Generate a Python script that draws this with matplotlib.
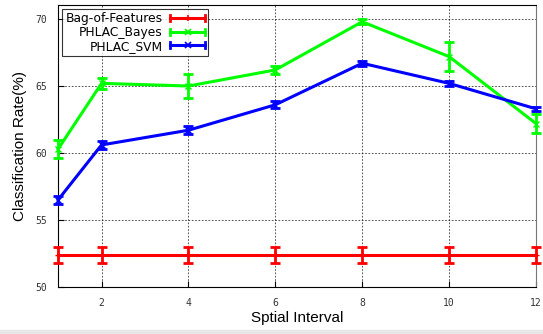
import numpy as np
import matplotlib.pyplot as plt
from matplotlib.patches import Rectangle
from matplotlib.lines import Line2D
from matplotlib.legend_handler import HandlerBase

# Data
intervals = [1, 2, 4, 6, 8, 10, 12]
bof_rate = [52.4, 52.4, 52.4, 52.4, 52.4, 52.4, 52.4]
bof_err = [0.6, 0.6, 0.6, 0.6, 0.6, 0.6, 0.6]
bayes_rate = [60.3, 65.2, 65.0, 66.2, 69.8, 67.2, 62.2]
bayes_err = [0.7, 0.4, 0.9, 0.3, 0.2, 1.1, 0.7]
svm_rate = [56.5, 60.6, 61.7, 63.6, 66.7, 65.2, 63.3]
svm_err = [0.3, 0.3, 0.3, 0.25, 0.2, 0.2, 0.15]

labels = ['Bag-of-Features', 'PHLAC_Bayes', 'PHLAC_SVM']
colors = ['#ff0000', '#00ff00', '#0000ff']
markers = ['+', 'x', 'x']

xticks = [2, 4, 6, 8, 10, 12]
yticks = [50, 55, 60, 65, 70]


class GnuplotKey(HandlerBase):
    # gnuplot style key sample: line with caps at both ends and the point in the middle
    def create_artists(self, legend, orig_handle, xdescent, ydescent, width, height, fontsize, trans):
        c = orig_handle.get_color()
        y = height / 2 - ydescent
        x0, x1 = -xdescent, width - xdescent
        h = height * 0.35
        arts = [Line2D([x0, x1], [y, y], color=c, lw=2.2),
                Line2D([x0, x0], [y - h, y + h], color=c, lw=2.0),
                Line2D([x1, x1], [y - h, y + h], color=c, lw=2.0),
                Line2D([(x0 + x1) / 2], [y], color=c, marker=orig_handle.get_marker(),
                       markersize=4, mew=1.2, linestyle='none')]
        for a in arts:
            a.set_transform(trans)
        return arts


fig = plt.figure(figsize=(5.43, 3.34), dpi=100)
ax = fig.add_axes([0.107, 0.141, 0.880, 0.844])

style = dict(linewidth=2.2, capsize=3.5, capthick=2.0, elinewidth=2.0, clip_on=False, zorder=3)
series = [(bof_rate, bof_err), (bayes_rate, bayes_err), (svm_rate, svm_err)]
proxies = []
for (rate, err), lab, col, mk in zip(series, labels, colors, markers):
    ax.errorbar(intervals, rate, yerr=err, color=col, marker=mk, markersize=4, **style)
    proxies.append(Line2D([], [], color=col, marker=mk))

ax.set_xlim(1, 12)
ax.set_ylim(50, 71.05)
ax.set_xticks(xticks)
ax.set_yticks(yticks)
ax.grid(True, color='black', linestyle=(0, (2, 2)), linewidth=0.6, alpha=0.8)
ax.tick_params(direction='in', length=4, labelsize=7, pad=8, labelcolor='#333333')
for lab in ax.get_xticklabels() + ax.get_yticklabels():
    lab.set_family('DejaVu Sans Mono')

for side in ['left', 'bottom', 'top']:
    ax.spines[side].set_color('black')
ax.spines['right'].set_color('#777777')

ax.set_xlabel('Sptial Interval', fontsize=11, family='Liberation Sans', labelpad=2)
ax.set_ylabel('Classification Rate(%)', fontsize=11, family='Liberation Sans', labelpad=6)

leg = ax.legend(proxies, labels, handler_map={Line2D: GnuplotKey()}, loc='upper left',
                markerfirst=False, frameon=True, fancybox=False, borderaxespad=0.35,
                handlelength=2.9, borderpad=0.25, labelspacing=0.05, handletextpad=0.6,
                prop={'family': 'DejaVu Sans', 'size': 8.8})
leg.get_frame().set_edgecolor('black')
leg.get_frame().set_linewidth(0.8)
leg.set_zorder(5)
for txt in leg.get_texts():
    txt.set_ha('right')

# light band at the bottom of the image
fig.patches.append(Rectangle((0.0, 0.0), 1.0, 0.012, transform=fig.transFigure,
                             color='#e8e8e8', zorder=0))

fig.savefig('out.png', dpi=100)
